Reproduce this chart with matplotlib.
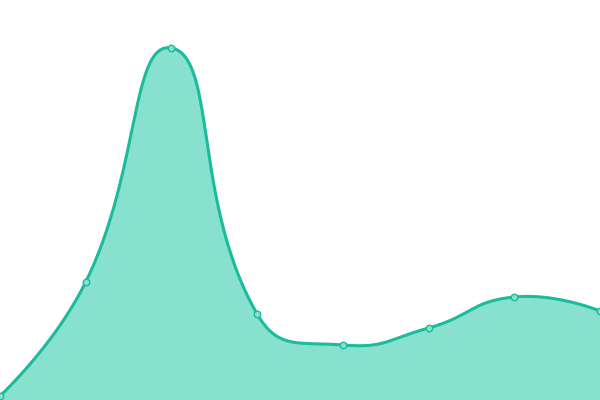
import numpy as np
import matplotlib
matplotlib.use("Agg")
import matplotlib.pyplot as plt

x_values = [0, 1, 2, 3, 4, 5, 6, 7]
y_values = [4, 118, 352, 86, 55, 72, 103, 89]

LINE = "#1abc9c"
FILL = "#88e0cf"
SMOOTH = 0.5


def smooth_path(xs, ys, sx, sy, n=60):
    # bezier smoothing like echarts' smooth line, done in pixel space
    px = np.asarray(xs, float) * sx
    py = np.asarray(ys, float) * sy
    m = len(px)
    out_x, out_y = [], []
    cps = []
    for i in range(m):
        if i == 0 or i == m - 1:
            cps.append(((px[i], py[i]), (px[i], py[i])))
            continue
        vx = px[i + 1] - px[i - 1]
        vy = py[i + 1] - py[i - 1]
        d0 = np.hypot(px[i] - px[i - 1], py[i] - py[i - 1])
        d1 = np.hypot(px[i + 1] - px[i], py[i + 1] - py[i])
        r = d1 / (d0 + d1)
        c0 = (px[i] - vx * SMOOTH * (1 - r), py[i] - vy * SMOOTH * (1 - r))
        c1 = (px[i] + vx * SMOOTH * r, py[i] + vy * SMOOTH * r)
        cps.append((c0, c1))
    u = np.linspace(0, 1, n)
    for i in range(m - 1):
        p0 = np.array([px[i], py[i]])
        p1 = np.array(cps[i][1])
        p2 = np.array(cps[i + 1][0])
        p3 = np.array([px[i + 1], py[i + 1]])
        b = ((1 - u)[:, None] ** 3 * p0 + 3 * ((1 - u) ** 2 * u)[:, None] * p1
             + 3 * ((1 - u) * u**2)[:, None] * p2 + (u**3)[:, None] * p3)
        out_x.extend(b[:, 0] / sx)
        out_y.extend(b[:, 1] / sy)
    return np.array(out_x), np.array(out_y)


fig = plt.figure(figsize=(6, 4), dpi=100)
ax = fig.add_axes([0, 0, 1, 1])
cx, cy = smooth_path(x_values, y_values, 600 / 7, 1.0)
ax.fill_between(cx, cy, 0, color=FILL, linewidth=0)
ax.plot(cx, cy, color=LINE, linewidth=2.2, solid_capstyle="round")
ax.scatter(x_values, y_values, s=22, facecolor=FILL, edgecolor=LINE, linewidth=1, zorder=3)
ax.set_xlim(0, 7)
ax.set_ylim(0, 400)
ax.axis("off")
fig.savefig("out.png", dpi=100)
